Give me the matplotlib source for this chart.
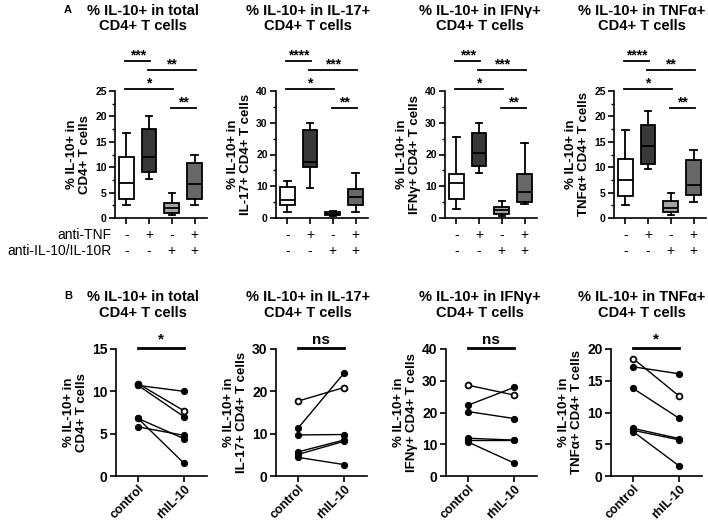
import matplotlib
matplotlib.use('Agg')
import matplotlib.pyplot as plt
from matplotlib.ticker import MultipleLocator, AutoMinorLocator

plt.rcParams['font.family'] = ['Liberation Sans', 'DejaVu Sans']

# ---- data ----
titles = ['% IL-10+ in total\nCD4+ T cells', '% IL-10+ in IL-17+\nCD4+ T cells',
          '% IL-10+ in IFNγ+\nCD4+ T cells', '% IL-10+ in TNFα+\nCD4+ T cells']
ylabels = ['% IL-10+ in\nCD4+ T cells', '% IL-10+ in\nIL-17+ CD4+ T cells',
           '% IL-10+ in\nIFNγ+ CD4+ T cells', '% IL-10+ in\nTNFα+ CD4+ T cells']

# panel A: box statistics, 4 groups per panel
top_ymax = [25, 40, 40, 25]
top_ystep = [5, 10, 10, 5]
whis_lo = [[2.6, 7.6, 0.5, 2.6], [1.8, 9.4, 0.5, 2.0], [2.9, 14.3, 0.6, 4.4], [2.6, 9.6, 0.6, 3.2]]
q1 = [[3.7, 9.1, 0.9, 3.7], [4.2, 16.0, 0.9, 4.1], [5.9, 16.4, 1.2, 5.1], [4.3, 10.6, 1.2, 4.5]]
med = [[6.9, 12.0, 1.9, 6.7], [5.7, 17.7, 1.4, 6.7], [10.9, 20.6, 2.5, 8.3], [7.5, 14.2, 1.9, 6.5]]
q3 = [[12.0, 17.5, 3.0, 10.8], [9.7, 27.7, 2.0, 9.0], [13.9, 26.9, 3.6, 13.9], [11.6, 18.3, 3.3, 11.4]]
whis_hi = [[16.7, 20.0, 5.0, 12.4], [11.6, 29.8, 2.3, 14.3], [25.6, 29.8, 5.4, 23.7], [17.3, 21.1, 4.9, 13.3]]
box_colors = ['white', '#383838', '#a3a3a3', '#686868']

anti_tnf = ['-', '+', '-', '+']
anti_il10 = ['-', '-', '+', '+']

sig_pairs = [(1, 2), (2, 4), (1, 3), (3, 4)]
sig_levels = [1.236, 1.165, 1.016, 0.866]
sig_stars = [['***', '**', '*', '**'], ['****', '***', '*', '**'],
             ['***', '***', '*', '**'], ['****', '**', '*', '**']]

# panel B: paired donors, first donor drawn as open circle
bot_ymax = [15, 30, 40, 20]
bot_ystep = [5, 10, 10, 5]
ctrl = [[10.9, 10.7, 10.7, 6.8, 6.8, 5.8], [17.7, 11.3, 9.7, 5.7, 5.1, 4.4],
        [28.6, 22.3, 20.3, 11.9, 11.3, 10.7], [18.5, 17.2, 13.8, 7.5, 7.2, 7.0]]
rhil10 = [[7.7, 10.0, 7.0, 4.4, 1.5, 4.8], [20.9, 24.3, 9.8, 8.5, 8.2, 2.7],
          [25.5, 27.9, 18.1, 11.3, 11.3, 4.1], [12.6, 16.1, 9.1, 5.9, 5.7, 1.6]]
bot_sig = ['*', 'ns', 'ns', '*']
bot_xlabels = ['control', 'rhIL-10']

W, H = 708, 525
fig = plt.figure(figsize=(W / 100, H / 100), dpi=100)


def px_axes(left, top, width, height):
    return fig.add_axes([left / W, 1 - (top + height) / H, width / W, height / H])


def style(ax, ymax, step, tick_fs, minor):
    for s in ['top', 'right']:
        ax.spines[s].set_visible(False)
    for s in ['left', 'bottom']:
        ax.spines[s].set_linewidth(1.2)
    ax.set_ylim(0, ymax)
    ax.yaxis.set_major_locator(MultipleLocator(step))
    if minor:
        ax.yaxis.set_minor_locator(AutoMinorLocator(2))
        ax.tick_params(axis='y', which='minor', length=2, width=1)
    ax.tick_params(which='major', length=4, width=1.2, labelsize=tick_fs, pad=2)
    for lab in ax.get_yticklabels():
        lab.set_fontweight('bold')


top_left = [115, 276, 445, 614]
bot_left = [116, 276, 446, 611]
title_x = [143, 308, 480, 642]

for i in range(4):
    ax = px_axes(top_left[i], 91, 92, 127)
    stats = [dict(whislo=whis_lo[i][g], q1=q1[i][g], med=med[i][g], q3=q3[i][g],
                  whishi=whis_hi[i][g], fliers=[]) for g in range(4)]
    bp = ax.bxp(stats, positions=[1, 2, 3, 4], widths=0.65, patch_artist=True,
                showfliers=False, capwidths=0.28,
                boxprops=dict(linewidth=1.3, edgecolor='black'),
                medianprops=dict(color='black', linewidth=1.3),
                whiskerprops=dict(linewidth=1.3), capprops=dict(linewidth=1.3))
    for patch, c in zip(bp['boxes'], box_colors):
        patch.set_facecolor(c)
    ax.set_xlim(0.5, 4.55)
    style(ax, top_ymax[i], top_ystep[i], 7.5, True)
    ax.set_xticks([1, 2, 3, 4])
    ax.set_xticklabels([])
    ax.set_ylabel(ylabels[i], fontsize=9.5, fontweight='bold', linespacing=1.1, labelpad=3)

    tr = ax.get_xaxis_transform()
    for g in range(4):
        ax.text(g + 1, -0.135, anti_tnf[g], transform=tr, ha='center', va='center', fontsize=10)
        ax.text(g + 1, -0.26, anti_il10[g], transform=tr, ha='center', va='center', fontsize=10)
    if i == 0:
        ax.text(-0.04, -0.135, 'anti-TNF', transform=ax.transAxes, ha='right', va='center', fontsize=10)
        ax.text(-0.04, -0.26, 'anti-IL-10/IL-10R', transform=ax.transAxes, ha='right', va='center', fontsize=10)

    for (a, b), lev, st in zip(sig_pairs, sig_levels, sig_stars[i]):
        ax.plot([a - 0.05, b + 0.05], [lev, lev], color='black', lw=1.3, transform=tr, clip_on=False)
        ax.annotate(st, ((a + b) / 2, lev), xycoords=tr, xytext=(0, 1), textcoords='offset points',
                    ha='center', va='baseline', fontsize=10, fontweight='bold')

    fig.text(title_x[i] / W, 1 - 18.5 / H, titles[i], ha='center', va='center',
             fontsize=10.5, fontweight='bold', linespacing=1.15)

    # panel B
    bx = px_axes(bot_left[i], 349, 91, 127)
    for d in range(len(ctrl[i])):
        if d == 0:
            bx.plot([0, 1], [ctrl[i][d], rhil10[i][d]], color='black', lw=1, marker='o', ms=4.2,
                    mfc='white', mec='black', mew=1.3, clip_on=False, zorder=2)
        else:
            bx.plot([0, 1], [ctrl[i][d], rhil10[i][d]], color='black', lw=1, marker='o', ms=4.2,
                    mfc='black', mec='black', clip_on=False, zorder=3)
    bx.set_xlim(-0.48, 1.5)
    style(bx, bot_ymax[i], bot_ystep[i], 10, False)
    bx.set_xticks([0, 1])
    bx.set_xticklabels(bot_xlabels, rotation=45, ha='right', rotation_mode='anchor',
                       fontsize=9, fontweight='bold')
    bx.tick_params(axis='x', pad=1)
    bx.set_ylabel(ylabels[i], fontsize=9.5, fontweight='bold', linespacing=1.1, labelpad=3)
    btr = bx.get_xaxis_transform()
    bx.plot([0, 1], [1.01, 1.01], color='black', lw=2, transform=btr, clip_on=False)
    bx.annotate(bot_sig[i], (0.5, 1.01), xycoords=btr, xytext=(0, 3), textcoords='offset points',
                ha='center', va='baseline', fontsize=11, fontweight='bold')

    fig.text(title_x[i] / W, 1 - 305 / H, titles[i], ha='center', va='center',
             fontsize=10.5, fontweight='bold', linespacing=1.15)

fig.text(68 / W, 1 - 10 / H, 'A', ha='center', va='center', fontsize=8, fontweight='bold')
fig.text(68 / W, 1 - 296 / H, 'B', ha='center', va='center', fontsize=8, fontweight='bold')

fig.savefig('out.png', dpi=100)
